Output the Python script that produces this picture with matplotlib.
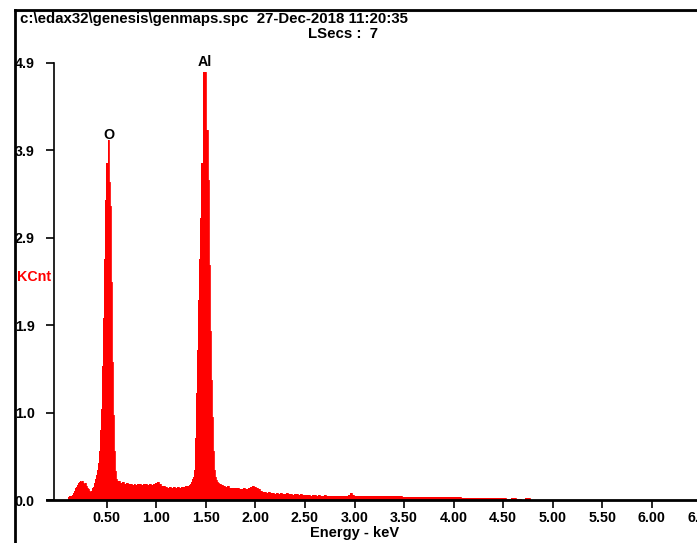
import matplotlib.pyplot as plt
import numpy as np

# spectrum channels (keV) and counts (kCnt)
energy_low = [0.11, 0.12, 0.13, 0.14, 0.15, 0.16, 0.17, 0.18, 0.19, 0.20,
              0.21, 0.22, 0.23, 0.24, 0.25, 0.26, 0.27, 0.28, 0.29, 0.30,
              0.31, 0.32, 0.33, 0.34, 0.35, 0.36, 0.37, 0.38, 0.39, 0.40]
counts_low = [0.03, 0.04, 0.05, 0.05, 0.06, 0.08, 0.10, 0.13, 0.15, 0.17,
              0.19, 0.20, 0.19, 0.21, 0.20, 0.21, 0.19, 0.18, 0.19, 0.16,
              0.14, 0.12, 0.10, 0.09, 0.10, 0.13, 0.15, 0.19, 0.23, 0.28]

energy_o = [0.41, 0.42, 0.43, 0.44, 0.45, 0.46, 0.47, 0.48, 0.49, 0.50,
            0.51, 0.52, 0.53, 0.54, 0.55, 0.56, 0.57, 0.58, 0.59, 0.60, 0.61]
counts_o = [0.34, 0.42, 0.55, 0.78, 1.02, 1.50, 2.04, 2.70, 3.36, 3.78,
            3.78, 4.04, 3.57, 3.30, 2.45, 1.55, 0.95, 0.55, 0.32, 0.24, 0.21]

energy_mid = [0.62, 0.64, 0.66, 0.68, 0.70, 0.72, 0.74, 0.76, 0.78, 0.80,
              0.82, 0.84, 0.86, 0.88, 0.90, 0.92, 0.94, 0.96, 0.98, 1.00,
              1.02, 1.04, 1.06, 1.08, 1.10, 1.12, 1.14, 1.16, 1.18, 1.20,
              1.22, 1.24, 1.26, 1.28, 1.30, 1.32, 1.34]
counts_mid = [0.21, 0.19, 0.20, 0.18, 0.19, 0.18, 0.18, 0.17, 0.18, 0.17,
              0.18, 0.18, 0.17, 0.18, 0.18, 0.17, 0.18, 0.17, 0.18, 0.19,
              0.20, 0.18, 0.16, 0.16, 0.15, 0.14, 0.15, 0.14, 0.15, 0.14,
              0.15, 0.14, 0.15, 0.15, 0.16, 0.16, 0.17]

energy_al = [1.35, 1.36, 1.37, 1.38, 1.39, 1.40, 1.41, 1.42, 1.43, 1.44,
             1.45, 1.46, 1.47, 1.48, 1.49, 1.50, 1.51, 1.52, 1.53, 1.54,
             1.55, 1.56, 1.57, 1.58, 1.59, 1.60, 1.61, 1.62, 1.63]
counts_al = [0.18, 0.20, 0.23, 0.26, 0.34, 0.70, 1.20, 1.68, 2.24, 2.70,
             3.16, 3.78, 3.78, 4.80, 4.80, 4.80, 4.15, 4.15, 3.59, 2.63,
             1.90, 1.35, 0.93, 0.55, 0.34, 0.26, 0.22, 0.20, 0.19]

energy_high = [1.64, 1.66, 1.68, 1.70, 1.72, 1.74, 1.76, 1.78, 1.80, 1.82,
               1.84, 1.86, 1.88, 1.90, 1.92, 1.94, 1.96, 1.98, 2.00, 2.02,
               2.04, 2.06, 2.08, 2.10, 2.12, 2.14, 2.16, 2.18, 2.20, 2.22,
               2.24, 2.26, 2.28, 2.30, 2.32, 2.34, 2.36, 2.38, 2.40, 2.42,
               2.44, 2.46, 2.48, 2.50, 2.52, 2.54, 2.56, 2.58, 2.60, 2.62,
               2.64, 2.66, 2.68, 2.70, 2.72, 2.74, 2.76, 2.78, 2.80, 2.82,
               2.84, 2.86, 2.88, 2.90, 2.92, 2.94, 2.96, 2.98, 3.00]
counts_high = [0.18, 0.17, 0.16, 0.15, 0.16, 0.14, 0.14, 0.13, 0.14, 0.13,
               0.12, 0.12, 0.13, 0.12, 0.12, 0.13, 0.15, 0.16, 0.15, 0.14,
               0.12, 0.10, 0.09, 0.09, 0.08, 0.09, 0.08, 0.08, 0.07, 0.08,
               0.07, 0.08, 0.07, 0.07, 0.08, 0.07, 0.07, 0.06, 0.07, 0.07,
               0.06, 0.07, 0.06, 0.06, 0.06, 0.06, 0.05, 0.06, 0.06, 0.05,
               0.06, 0.05, 0.05, 0.06, 0.05, 0.05, 0.05, 0.05, 0.05, 0.05,
               0.05, 0.05, 0.05, 0.05, 0.05, 0.06, 0.08, 0.06, 0.05]

energy_tail = [3.05, 3.10, 3.15, 3.20, 3.25, 3.30, 3.35, 3.40, 3.45, 3.50,
               3.55, 3.60, 3.65, 3.70, 3.75, 3.80, 3.85, 3.90, 3.95, 4.00,
               4.05, 4.10, 4.15, 4.20, 4.25, 4.30, 4.35, 4.40, 4.45, 4.50,
               4.55, 4.60, 4.65, 4.70, 4.75, 4.80]
counts_tail = [0.05, 0.05, 0.05, 0.045, 0.045, 0.04, 0.04, 0.04, 0.04, 0.035,
               0.035, 0.035, 0.035, 0.03, 0.03, 0.03, 0.03, 0.03, 0.03, 0.03,
               0.03, 0.028, 0.025, 0.028, 0.025, 0.025, 0.022, 0.02, 0.02, 0.02,
               0.015, 0.02, 0.015, 0.0, 0.02, 0.0]

peak_names = ['O', 'Al']
peak_energy = [0.52, 1.49]
peak_label_y = [4.09, 4.91]

xticks = [0.5, 1.0, 1.5, 2.0, 2.5, 3.0, 3.5, 4.0, 4.5, 5.0, 5.5, 6.0, 6.5]
yticks = [0.0, 0.98, 1.96, 2.94, 3.92, 4.9]
ytick_labels = ['0.0', '1.0', '1.9', '2.9', '3.9', '4.9']

E = np.array(energy_low + energy_o + energy_mid + energy_al + energy_high + energy_tail)
C = np.array(counts_low + counts_o + counts_mid + counts_al + counts_high + counts_tail)

plt.rcParams['font.family'] = 'Liberation Sans'
plt.rcParams['font.weight'] = 'bold'

W, H = 697, 543
fig = plt.figure(figsize=(W / 100, H / 100), dpi=100)
# axes runs a bit past the right edge so the "6." label gets cut like the original
ax = fig.add_axes([47 / W, (H - 500) / H, (720 - 47) / W, (500 - 63) / H])

ax.fill_between(E, C, step='mid', color='#ff0000', linewidth=0)
ax.step(E, C, where='mid', color='#ff0000', linewidth=0.6)

ax.set_xlim(-0.103, 6.688)
ax.set_ylim(0, 4.9)

for sp in ['top', 'right']:
    ax.spines[sp].set_visible(False)
ax.spines['left'].set_position(('data', -0.032))
ax.spines['left'].set_linewidth(1.2)
ax.spines['bottom'].set_linewidth(2)

ax.set_xticks(xticks)
ax.set_xticklabels(['%.2f' % t for t in xticks], fontsize=10.3, fontweight='bold')
ax.set_yticks(yticks)
ax.set_yticklabels(ytick_labels, fontsize=10.3, fontweight='bold')
ax.tick_params(axis='x', direction='out', length=6, width=1.2, pad=2)
ax.tick_params(axis='y', direction='out', length=6, width=1.2, pad=8)

ax.set_xlabel('Energy - keV', fontsize=10.5, fontweight='bold')
ax.xaxis.set_label_coords((355 - 47) / (720 - 47), -0.06)

for name, e, y in zip(peak_names, peak_energy, peak_label_y):
    ax.text(e, y, name, ha='center', va='center', fontsize=10.3, fontweight='bold',
            clip_on=False)

fig.text(17 / W, 1 - 277 / H, 'KCnt', color='#ff0000', fontsize=10.3,
         fontweight='bold', ha='left', va='center')

fig.text(20 / W, 1 - 12 / H, 'c:\\edax32\\genesis\\genmaps.spc  27-Dec-2018 11:20:35',
         fontsize=10.8, fontweight='bold', ha='left', va='top')
fig.text(308 / W, 1 - 27 / H, 'LSecs :  7', fontsize=10.8, fontweight='bold',
         ha='left', va='top')

# outer frame lines (top and left), with the faint grey edge under the top one
fig.add_artist(plt.Line2D([15 / W, 1], [1 - 11 / H, 1 - 11 / H], color='#999999', lw=0.8))
fig.add_artist(plt.Line2D([15 / W, 1], [1 - 9.5 / H, 1 - 9.5 / H], color='black', lw=2))
fig.add_artist(plt.Line2D([15 / W, 15 / W], [0, 1 - 9.5 / H], color='black', lw=2))

fig.savefig('out.png', dpi=100)
